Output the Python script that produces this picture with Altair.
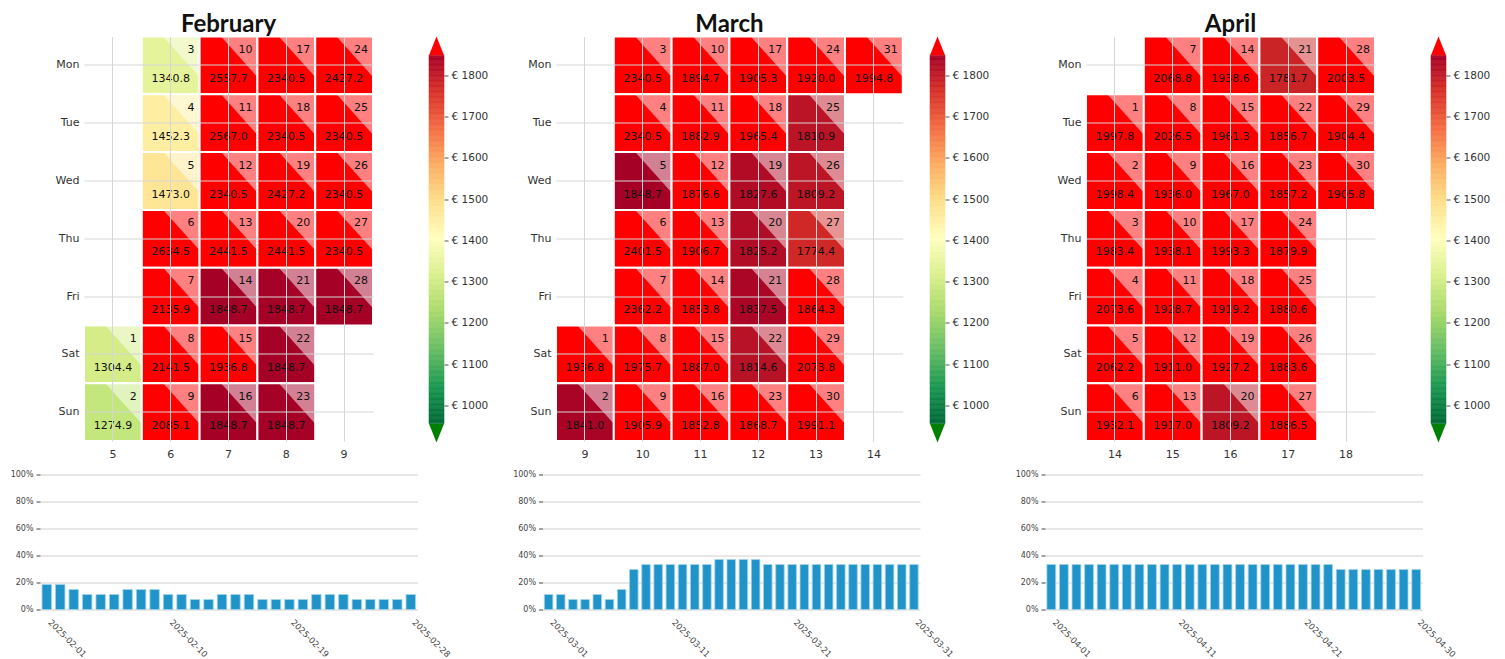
import math
import altair as alt
import numpy as np
import pandas as pd

YEAR = 2025
MONTH_NAMES = ["February", "March", "April"]
MONTH_NUMS = [2, 3, 4]
WEEKDAYS = ["Mon", "Tue", "Wed", "Thu", "Fri", "Sat", "Sun"]

# daily price per month (day 1 .. last day)
feb_prices = [1304.4, 1274.9, 1340.8, 1452.3, 1473.0, 2634.5, 2135.9, 2141.5, 2085.1, 2557.7,
              2567.0, 2340.5, 2441.5, 1848.7, 1936.8, 1848.7, 2340.5, 2340.5, 2427.2, 2441.5,
              1848.7, 1848.7, 1848.7, 2427.2, 2340.5, 2340.5, 2340.5, 1848.7]
mar_prices = [1936.8, 1841.0, 2340.5, 2340.5, 1848.7, 2401.5, 2362.2, 1975.7, 1905.9, 1894.7,
              1882.9, 1876.6, 1906.7, 1853.8, 1887.0, 1852.8, 1905.3, 1965.4, 1827.6, 1825.2,
              1837.5, 1814.6, 1868.7, 1920.0, 1810.9, 1809.2, 1774.4, 1864.3, 2073.8, 1991.1,
              1994.8]
apr_prices = [1997.8, 1998.4, 1983.4, 2073.6, 2062.2, 1932.1, 2068.8, 2026.5, 1936.0, 1938.1,
              1928.7, 1911.0, 1917.0, 1938.6, 1961.3, 1967.0, 1993.3, 1919.2, 1927.2, 1809.2,
              1781.7, 1856.7, 1857.2, 1879.9, 1880.6, 1883.6, 1886.5, 2003.5, 1904.4, 1905.8]

# daily occupancy in percent
feb_occupancy = [18.5, 18.5, 14.8, 11.1, 11.1, 11.1, 14.8, 14.8, 14.8, 11.1,
                 11.1, 7.4, 7.4, 11.1, 11.1, 11.1, 7.4, 7.4, 7.4, 7.4,
                 11.1, 11.1, 11.1, 7.4, 7.4, 7.4, 7.4, 11.1]
mar_occupancy = [11.1, 11.1, 7.4, 7.4, 11.1, 7.4, 14.8, 29.6, 33.3, 33.3,
                 33.3, 33.3, 33.3, 33.3, 37.0, 37.0, 37.0, 37.0, 33.3, 33.3,
                 33.3, 33.3, 33.3, 33.3, 33.3, 33.3, 33.3, 33.3, 33.3, 33.3,
                 33.3]
apr_occupancy = [33.3, 33.3, 33.3, 33.3, 33.3, 33.3, 33.3, 33.3, 33.3, 33.3,
                 33.3, 33.3, 33.3, 33.3, 33.3, 33.3, 33.3, 33.3, 33.3, 33.3,
                 33.3, 33.3, 33.3, 29.6, 29.6, 29.6, 29.6, 29.6, 29.6, 29.6]

feb_date_labels = ["2025-02-01", "2025-02-10", "2025-02-19", "2025-02-28"]
mar_date_labels = ["2025-03-01", "2025-03-11", "2025-03-21", "2025-03-31"]
apr_date_labels = ["2025-04-01", "2025-04-11", "2025-04-21", "2025-04-30"]

occupancy_ticks = [0, 0.2, 0.4, 0.6, 0.8, 1.0]
colorbar_ticks = [1000, 1100, 1200, 1300, 1400, 1500, 1600, 1700, 1800]

VMIN, VMAX = 956.0, 1848.7
RDYLGN_R = ["#006837", "#1a9850", "#66bd63", "#a6d96a", "#d9ef8b", "#ffffbf",
            "#fee08b", "#fdae61", "#f46d43", "#d73027", "#a50026"]
OVER_COLOR = "#ff0000"
UNDER_COLOR = "#008000"

# ---------------- layout constants (pixels) ----------------
STEP = 57.8            # calendar cell size
BAR_W, BAR_H = 377.5, 135
BAR_AX = 32            # extent of the occupancy y axis
MONTH_PITCH = 501.7    # distance between bar-chart origins of consecutive months
BAR_GAP = 58.5         # hconcat spacing between bar charts
CAL_CENTER = 188.0     # calendar centre, relative to the bar chart origin
CAL_AX = 36            # extent of weekday axis
CB_REL = 387.8         # colorbar left edge, relative to the bar chart origin
CB_W, CB_H = 15, 406
CB_AX = 46
CB_DOMAIN = [910, 1894.3]
CELL_EXTRA = 0.6       # layout adds a fraction of a pixel after every view in a row
FONT = "DejaVu Sans"

TRI = "M -0.26 -1 L 1 -1 L 1 0.4 Z"
ARROW_UP = "M 0 -1.25 L 1 1.25 L -1 1.25 Z"
ARROW_DOWN = "M 0 1.25 L 1 -1.25 L -1 -1.25 Z"

cscale = alt.Scale(domain=list(np.linspace(VMIN, VMAX, len(RDYLGN_R))), range=RDYLGN_R,
                   interpolate="rgb", clamp=True)


def month_dates(month, n):
    return pd.date_range(f"{YEAR}-{month:02d}-01", periods=n, freq="D")


def calendar(name, month, prices):
    dates = month_dates(month, len(prices))
    iso = dates.isocalendar()
    df = pd.DataFrame({
        "day": dates.day,
        "dow": [WEEKDAYS[d] for d in dates.weekday],
        "week": iso.week.astype(int).values,
        "price": prices,
    })
    weeks = list(range(int(df.week.min()), int(df.week.max()) + 1))
    base = alt.Chart(df).encode(
        x=alt.X("week:O", scale=alt.Scale(domain=weeks, paddingInner=0, paddingOuter=0),
                axis=alt.Axis(title=None, ticks=False, tickSize=0, domain=False, grid=True,
                              gridColor="#d6d6d6", gridWidth=1, labelAngle=0, labelFontSize=11,
                              labelPadding=7, bandPosition=0.5, labelColor="#333")),
        y=alt.Y("dow:O", scale=alt.Scale(domain=WEEKDAYS, paddingInner=0, paddingOuter=0),
                axis=alt.Axis(title=None, ticks=False, tickSize=0, domain=False, grid=True,
                              gridColor="#d6d6d6", gridWidth=1, labelFontSize=11,
                              labelPadding=5, bandPosition=0.5, minExtent=CAL_AX,
                              maxExtent=CAL_AX, labelColor="#333")),
    )
    color = alt.when(alt.datum.price > VMAX).then(alt.value(OVER_COLOR)).otherwise(
        alt.Color("price:Q", scale=cscale, legend=None))
    rect = base.mark_rect(stroke="white", strokeWidth=2).encode(color=color)
    tri = base.mark_point(shape=TRI, size=STEP * STEP, filled=True, color="white",
                          opacity=0.5, strokeWidth=0)
    num = base.mark_text(align="right", baseline="middle", dx=STEP / 2 - 5,
                         dy=-(STEP / 2 - 13.5), fontSize=11, font=FONT,
                         color="#111").encode(text="day:Q")
    val = base.mark_text(align="center", baseline="middle", dy=13.5, fontSize=11,
                         font=FONT, color="#111").encode(
        text=alt.Text("price:Q", format=".1f"))
    chart = alt.layer(rect, tri, num, val).properties(
        width=len(weeks) * STEP, height=7 * STEP,
        title=alt.TitleParams(name, anchor="middle", frame="group", fontSize=24,
                              font="Lato", fontWeight="bold", offset=-20,
                              baseline="alphabetic", color="#111"))
    return chart, len(weeks) * STEP


def colorbar():
    edges = np.linspace(VMIN, VMAX, 301)
    grad = pd.DataFrame({"k": 0, "v": edges[:-1], "v2": edges[1:]})
    arrows_up = pd.DataFrame({"k": [0], "v": [(VMAX + CB_DOMAIN[1]) / 2]})
    arrows_dn = pd.DataFrame({"k": [0], "v": [(VMIN + CB_DOMAIN[0]) / 2]})
    x = alt.X("k:N", scale=alt.Scale(paddingInner=0, paddingOuter=0), axis=None)
    yscale = alt.Scale(domain=CB_DOMAIN, nice=False, zero=False)
    g = alt.Chart(grad).mark_rect(strokeWidth=0.6).encode(
        x=x,
        y=alt.Y("v:Q", scale=yscale,
                axis=alt.Axis(orient="right", values=colorbar_ticks,
                              labelExpr="'€ ' + datum.value", tickSize=4, tickColor="#555",
                              domain=False, grid=False, labelFontSize=10.5, labelPadding=3,
                              title=None, labelColor="#333", minExtent=CB_AX,
                              maxExtent=CB_AX)),
        y2="v2:Q",
        color=alt.Color("v:Q", scale=cscale, legend=None),
        stroke=alt.Stroke("v:Q", scale=cscale, legend=None),
    )
    up = alt.Chart(arrows_up).mark_point(shape=ARROW_UP, size=CB_W * CB_W, filled=True,
                                         color=OVER_COLOR, opacity=1, strokeWidth=0).encode(
        x=x, y=alt.Y("v:Q", scale=yscale))
    dn = alt.Chart(arrows_dn).mark_point(shape=ARROW_DOWN, size=CB_W * CB_W, filled=True,
                                         color=UNDER_COLOR, opacity=1, strokeWidth=0).encode(
        x=x, y=alt.Y("v:Q", scale=yscale))
    return alt.layer(g, up, dn).properties(width=CB_W, height=CB_H)


def bars(month, occupancy, labels):
    dates = month_dates(month, len(occupancy))
    df = pd.DataFrame({"date": dates.strftime("%Y-%m-%d"),
                       "occ": [o / 100 for o in occupancy]})
    return alt.Chart(df).mark_bar(color="#2094c8", stroke="#9ed2ea", strokeWidth=0.8).encode(
        x=alt.X("date:O", scale=alt.Scale(paddingInner=0.3, paddingOuter=0.15),
                axis=alt.Axis(values=labels, labelAngle=45, labelAlign="left",
                              labelBaseline="top", ticks=False, tickSize=0, domain=False,
                              labelFontSize=8.5, labelPadding=8, labelOffset=6, title=None,
                              labelColor="#444")),
        y=alt.Y("occ:Q", scale=alt.Scale(domain=[0, 1], nice=False),
                axis=alt.Axis(values=occupancy_ticks, format=".0%", tickSize=4,
                              tickColor="#444", domain=False, grid=True, gridColor="#d0d0d0",
                              labelFontSize=8, labelPadding=3, minExtent=BAR_AX,
                              maxExtent=BAR_AX, title=None, labelColor="#444")),
    ).properties(width=BAR_W, height=BAR_H)


def spacer(w):
    # empty, invisible view used only to open horizontal room in the top row
    return alt.Chart(pd.DataFrame({"s": [0]})).mark_point(opacity=0).encode(
        x=alt.X("s:Q", axis=None), y=alt.Y("s:Q", axis=None)).properties(width=w, height=1)


top_cells = []
bar_cells = []
free = 0.0   # first free x in the top row, relative to the first bar origin
for i, (name, num, prices, occ, labels) in enumerate(zip(
        MONTH_NAMES, MONTH_NUMS, [feb_prices, mar_prices, apr_prices],
        [feb_occupancy, mar_occupancy, apr_occupancy],
        [feb_date_labels, mar_date_labels, apr_date_labels])):
    origin = i * MONTH_PITCH
    cal, cal_w = calendar(name, num, prices)
    target = origin + CAL_CENTER - cal_w / 2
    w = max(1, round(target - CAL_AX - free))
    top_cells.append(spacer(w))
    free += w + CELL_EXTRA
    top_cells.append(cal)
    free += CAL_AX + math.ceil(cal_w) + CELL_EXTRA
    w = max(1, round(origin + CB_REL - free))
    top_cells.append(spacer(w))
    free += w + CELL_EXTRA
    top_cells.append(colorbar())
    free += CB_W + CB_AX + CELL_EXTRA
    bar_cells.append(bars(num, occ, labels))

row1 = alt.hconcat(*top_cells, spacing=0)
row2 = alt.hconcat(*bar_cells, spacing=BAR_GAP)

chart = alt.vconcat(row1, row2, spacing=11).properties(
    padding={"left": 0, "top": 4.5, "right": 0, "bottom": 0}).configure_view(
    stroke=None).configure_axis(labelFont=FONT).configure_text(font=FONT)

chart.save("out.html", embed_options={"renderer": "svg", "actions": False})
